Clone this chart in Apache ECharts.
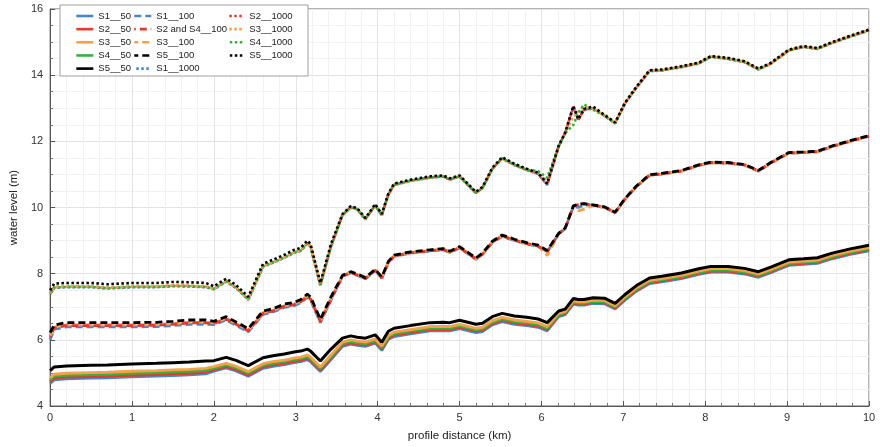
<!DOCTYPE html>
<html>
<head>
<meta charset="utf-8">
<script src="https://cdn.jsdelivr.net/npm/echarts@6/dist/echarts.min.js"></script>
<style>html,body{margin:0;padding:0;background:#fff}#chart{width:880px;height:447px}</style>
</head>
<body>
<div id="chart"></div>
<script>
// profile distance (km)
const xKm = [0,0.05,0.2,0.5,0.7,1.0,1.3,1.5,1.7,1.9,
  2.0,2.15,2.27,2.42,2.6,2.72,2.86,2.98,3.06,3.14,3.18,3.3,3.43,
  3.57,3.67,3.75,3.85,3.97,4.05,4.13,4.2,4.4,4.64,4.8,4.88,5.0,5.2,5.28,5.4,5.52,5.67,5.82,5.96,6.07,
  6.21,6.29,6.39,6.45,6.52,6.63,6.77,6.9,7.02,7.16,7.32,7.47,7.71,7.92,8.07,8.28,8.48,8.65,8.8,9.02,9.2,9.37,9.55,9.77,10.0];

// 50-year return period (solid)
const s1_50 = [4.68,4.79,4.82,4.84,4.85,4.88,4.90,4.92,4.94,4.97,
  5.05,5.15,5.06,4.90,5.14,5.20,5.25,5.31,5.34,5.40,5.34,5.04,5.40,
  5.80,5.87,5.83,5.80,5.90,5.68,6.01,6.10,6.18,6.27,6.28,6.27,6.34,6.22,6.25,6.45,6.55,6.47,6.43,6.38,6.27,
  6.70,6.76,7.08,7.05,7.05,7.10,7.09,6.93,7.20,7.47,7.70,7.75,7.85,7.98,8.05,8.05,7.99,7.89,8.03,8.25,8.28,8.31,8.45,8.58,8.69];
const s2_50 = [4.73,4.84,4.87,4.89,4.90,4.93,4.95,4.97,4.99,5.02,
  5.09,5.19,5.10,4.94,5.18,5.24,5.29,5.35,5.38,5.44,5.38,5.08,5.44,
  5.84,5.91,5.87,5.84,5.94,5.72,6.05,6.14,6.22,6.31,6.32,6.31,6.38,6.26,6.29,6.49,6.59,6.51,6.47,6.42,6.31,
  6.73,6.79,7.11,7.08,7.08,7.13,7.12,6.96,7.23,7.50,7.73,7.78,7.88,8.01,8.08,8.08,8.02,7.92,8.06,8.28,8.31,8.34,8.48,8.61,8.72];
const s3_50 = [4.85,4.96,4.99,5.01,5.02,5.05,5.07,5.09,5.11,5.14,
  5.19,5.29,5.20,5.04,5.28,5.34,5.39,5.45,5.48,5.54,5.48,5.18,5.54,
  5.93,6.00,5.96,5.93,6.03,5.81,6.14,6.23,6.31,6.40,6.41,6.40,6.47,6.35,6.38,6.58,6.68,6.60,6.56,6.51,6.40,
  6.80,6.86,7.18,7.15,7.15,7.20,7.19,7.03,7.30,7.57,7.80,7.85,7.95,8.08,8.15,8.15,8.09,7.99,8.13,8.35,8.38,8.41,8.55,8.68,8.79];
const s4_50 = [4.79,4.90,4.93,4.95,4.96,4.99,5.01,5.03,5.05,5.08,
  5.14,5.24,5.15,4.99,5.23,5.29,5.34,5.40,5.43,5.49,5.43,5.13,5.49,
  5.88,5.95,5.91,5.88,5.98,5.76,6.09,6.18,6.26,6.35,6.36,6.35,6.42,6.30,6.33,6.53,6.63,6.55,6.51,6.46,6.35,
  6.76,6.82,7.14,7.11,7.11,7.16,7.15,6.99,7.26,7.53,7.76,7.81,7.91,8.04,8.11,8.11,8.05,7.95,8.09,8.31,8.34,8.37,8.51,8.64,8.75];
const s5_50 = [5.07,5.18,5.21,5.23,5.24,5.27,5.29,5.31,5.33,5.36,
  5.37,5.47,5.38,5.22,5.46,5.52,5.57,5.63,5.66,5.72,5.66,5.36,5.72,
  6.05,6.12,6.08,6.05,6.15,5.93,6.26,6.35,6.43,6.52,6.53,6.52,6.59,6.47,6.50,6.70,6.80,6.72,6.68,6.63,6.52,
  6.87,6.93,7.25,7.22,7.22,7.27,7.26,7.10,7.37,7.64,7.87,7.92,8.02,8.15,8.22,8.22,8.16,8.06,8.20,8.42,8.45,8.48,8.62,8.75,8.86];

// 100-year return period (dashed)
const s1_100 = [6.00,6.32,6.39,6.39,6.39,6.39,6.40,6.43,6.47,6.47,
  6.46,6.60,6.44,6.24,6.77,6.84,6.98,7.03,7.12,7.28,7.20,6.52,7.20,
  7.91,8.02,7.95,7.84,8.09,7.86,8.33,8.52,8.62,8.68,8.72,8.64,8.78,8.43,8.58,8.94,9.13,9.00,8.90,8.82,8.66,
  9.20,9.36,10.03,10.00,10.08,10.06,10.00,9.84,10.25,10.63,10.97,11.01,11.10,11.27,11.35,11.34,11.28,11.10,11.34,11.64,11.66,11.68,11.84,12.00,12.15];
const s24_100 = [6.08,6.36,6.43,6.43,6.43,6.43,6.44,6.47,6.51,6.51,
  6.49,6.63,6.47,6.27,6.80,6.87,7.01,7.06,7.15,7.31,7.23,6.55,7.23,
  7.92,8.03,7.96,7.85,8.10,7.87,8.34,8.53,8.63,8.69,8.73,8.65,8.79,8.44,8.59,8.95,9.14,9.01,8.91,8.83,8.67,
  9.21,9.37,10.04,10.09,10.11,10.07,10.01,9.85,10.26,10.64,10.98,11.02,11.11,11.28,11.36,11.35,11.29,11.11,11.35,11.65,11.67,11.69,11.85,12.01,12.16];
const s3_100 = [6.12,6.38,6.45,6.45,6.45,6.45,6.46,6.49,6.53,6.53,
  6.51,6.65,6.49,6.29,6.82,6.89,7.03,7.08,7.17,7.33,7.25,6.57,7.25,
  7.93,8.04,7.97,7.86,8.11,7.88,8.35,8.54,8.64,8.70,8.74,8.66,8.80,8.45,8.60,8.96,9.15,9.02,8.92,8.84,8.55,
  9.20,9.36,10.05,9.90,9.95,10.06,10.00,9.84,10.25,10.63,10.97,11.01,11.10,11.27,11.35,11.34,11.28,11.10,11.34,11.64,11.66,11.68,11.84,12.00,12.15];
const s5_100 = [6.22,6.45,6.52,6.52,6.52,6.52,6.53,6.56,6.60,6.60,
  6.56,6.70,6.54,6.34,6.87,6.94,7.08,7.13,7.22,7.38,7.30,6.62,7.30,
  7.95,8.06,7.99,7.88,8.13,7.90,8.37,8.56,8.66,8.72,8.76,8.68,8.82,8.47,8.62,8.98,9.17,9.04,8.94,8.86,8.70,
  9.22,9.38,10.05,10.10,10.12,10.08,10.02,9.86,10.27,10.65,10.99,11.03,11.12,11.29,11.37,11.36,11.30,11.12,11.36,11.66,11.68,11.70,11.86,12.02,12.17];

// 1000-year return period (dotted)
const s1_1000 = [7.40,7.57,7.59,7.59,7.55,7.59,7.59,7.62,7.61,7.59,
  7.53,7.76,7.57,7.21,8.21,8.33,8.48,8.63,8.69,8.91,8.81,7.65,8.81,
  9.76,10.00,9.94,9.64,10.06,9.76,10.38,10.68,10.80,10.90,10.93,10.84,10.93,10.43,10.58,11.16,11.48,11.28,11.13,11.01,10.68,
  11.84,12.24,13.04,12.64,12.95,12.99,12.77,12.54,13.14,13.62,14.12,14.14,14.24,14.35,14.55,14.49,14.39,14.17,14.34,14.74,14.85,14.79,14.97,15.16,15.35];
const s2_1000 = [7.39,7.59,7.61,7.61,7.57,7.61,7.61,7.64,7.63,7.61,
  7.54,7.77,7.58,7.22,8.22,8.34,8.49,8.64,8.70,8.92,8.82,7.64,8.82,
  9.77,10.01,9.95,9.65,10.07,9.77,10.39,10.69,10.81,10.91,10.94,10.85,10.94,10.44,10.59,11.17,11.49,11.29,11.14,11.02,10.69,
  11.85,12.25,13.05,12.65,12.96,13.00,12.78,12.55,13.15,13.63,14.13,14.15,14.25,14.36,14.56,14.50,14.40,14.18,14.35,14.75,14.86,14.80,14.98,15.17,15.36];
const s3_1000 = [7.40,7.60,7.62,7.62,7.58,7.62,7.62,7.65,7.64,7.62,
  7.55,7.78,7.59,7.23,8.23,8.35,8.50,8.65,8.71,8.93,8.83,7.67,8.84,
  9.77,10.01,9.95,9.65,10.07,9.77,10.39,10.69,10.81,10.91,10.94,10.85,10.94,10.44,10.59,11.17,11.49,11.29,11.14,11.04,10.80,
  11.85,12.25,12.75,12.90,13.05,13.00,12.78,12.55,13.15,13.63,14.13,14.15,14.25,14.36,14.56,14.50,14.40,14.18,14.35,14.75,14.86,14.80,14.98,15.17,15.36];
const s4_1000 = [7.36,7.58,7.60,7.60,7.56,7.60,7.60,7.63,7.62,7.60,
  7.54,7.77,7.58,7.22,8.22,8.34,8.49,8.64,8.70,8.92,8.82,7.66,8.83,
  9.77,10.01,9.95,9.65,10.07,9.77,10.39,10.69,10.81,10.91,10.94,10.85,10.94,10.44,10.59,11.17,11.49,11.29,11.14,11.10,10.90,
  11.85,12.25,12.50,12.85,13.12,12.95,12.78,12.55,13.15,13.63,14.13,14.15,14.25,14.36,14.56,14.50,14.40,14.18,14.35,14.75,14.86,14.80,14.98,15.17,15.36];
const s5_1000 = [7.50,7.70,7.72,7.72,7.68,7.72,7.72,7.75,7.74,7.72,
  7.62,7.85,7.66,7.30,8.30,8.42,8.57,8.72,8.78,9.00,8.90,7.72,8.90,
  9.80,10.04,9.98,9.68,10.10,9.80,10.42,10.72,10.84,10.94,10.97,10.88,10.97,10.47,10.62,11.20,11.52,11.32,11.17,11.05,10.72,
  11.87,12.27,13.07,12.67,12.98,13.05,12.80,12.57,13.17,13.65,14.15,14.17,14.27,14.38,14.58,14.52,14.42,14.20,14.37,14.77,14.88,14.82,15.00,15.19,15.38];

const legendCol1 = ['S1__50','S2__50','S3__50','S4__50','S5__50'];
const legendCol2 = ['S1__100','S2 and S4__100','S3__100','S5__100','S1__1000'];
const legendCol3 = ['S2__1000','S3__1000','S4__1000','S5__1000'];

const BLUE = '#4a86d0', RED = '#e5392c', ORANGE = '#f5a04a', GREEN = '#35b23a', BLACK = '#000000';

function pts(ys){ return xKm.map((x,i)=>[x, ys[i]]); }
function mk(name, ys, color, type, width, dashOffset){
  const ls = {color: color, width: width, type: type};
  if (dashOffset) ls.dashOffset = dashOffset;
  return {name: name, type: 'line', data: pts(ys), symbol: 'none', showSymbol: false,
    itemStyle: {color: color}, lineStyle: ls, emphasis: {disabled: true}};
}
const DOT = [2.5, 2.5], DASH = [7, 4];
const series = [
  mk('S1__1000', s1_1000, BLUE, DOT, 2.6),
  mk('S2__1000', s2_1000, RED, DOT, 2.6),
  mk('S3__1000', s3_1000, ORANGE, DOT, 2.6),
  mk('S4__1000', s4_1000, GREEN, DOT, 2.6, 2.5),
  mk('S5__1000', s5_1000, BLACK, DOT, 2.6),
  mk('S1__100', s1_100, BLUE, DASH, 2.8),
  mk('S3__100', s3_100, ORANGE, DASH, 2.8, 3),
  mk('S2 and S4__100', s24_100, RED, DASH, 2.8, 5.5),
  mk('S5__100', s5_100, BLACK, DASH, 2.8),
  mk('S1__50', s1_50, BLUE, 'solid', 2.8),
  mk('S2__50', s2_50, RED, 'solid', 2.8),
  mk('S4__50', s4_50, GREEN, 'solid', 2.8),
  mk('S3__50', s3_50, ORANGE, 'solid', 2.8),
  mk('S5__50', s5_50, BLACK, 'solid', 3)
];

const FONT = 'Liberation Sans, Arial, sans-serif';
function leg(data, left){
  return {data: data, left: left, top: 10, orient: 'vertical', itemWidth: 17, itemHeight: 10,
    itemGap: 1.15, z: 20, selectedMode: false, padding: 0,
    itemStyle: {opacity: 0, borderWidth: 0},
    lineStyle: {width: 2.6},
    textStyle: {fontSize: 9.5, color: '#222', fontFamily: FONT, lineHeight: 12}};
}
const axisCommon = {
  axisLine: {show: true, lineStyle: {color: '#555', width: 1}},
  axisTick: {show: true, inside: true, length: 5, lineStyle: {color: '#555'}},
  minorTick: {show: true, length: 3, lineStyle: {color: '#777'}},
  axisLabel: {fontSize: 11, color: '#333', fontFamily: FONT},
  splitLine: {show: true, lineStyle: {color: '#e3e3e3', width: 1}},
  minorSplitLine: {show: true, lineStyle: {color: '#f1f1f1', width: 1}},
  nameLocation: 'middle',
  nameTextStyle: {fontSize: 11.5, color: '#222', fontFamily: FONT}
};
const option = {
  animation: false,
  backgroundColor: '#ffffff',
  textStyle: {fontFamily: FONT},
  grid: {left: 44, right: 11, top: 9, bottom: 39, show: true, borderColor: '#666', borderWidth: 1},
  xAxis: Object.assign({}, axisCommon, {type: 'value', min: 0, max: 10, interval: 1,
    name: 'profile distance (km)', nameGap: 24,
    minorTick: Object.assign({}, axisCommon.minorTick, {splitNumber: 5}),
    axisLabel: Object.assign({}, axisCommon.axisLabel, {margin: 6})}),
  yAxis: Object.assign({}, axisCommon, {type: 'value', min: 4, max: 16, interval: 2,
    name: 'water level (m)', nameGap: 30,
    minorTick: Object.assign({}, axisCommon.minorTick, {splitNumber: 4}),
    axisLabel: Object.assign({}, axisCommon.axisLabel, {margin: 7})}),
  legend: [leg(legendCol1, 75), leg(legendCol2, 133), leg(legendCol3, 226)],
  graphic: [{type: 'rect', z: 15, shape: {x: 60, y: 5, width: 248, height: 71},
    style: {fill: '#ffffff', stroke: '#a0a0a0', lineWidth: 1}}],
  series: series
};
const chart = echarts.init(document.getElementById('chart'), null, {renderer: 'canvas'});
chart.setOption(option);
</script>
</body>
</html>
